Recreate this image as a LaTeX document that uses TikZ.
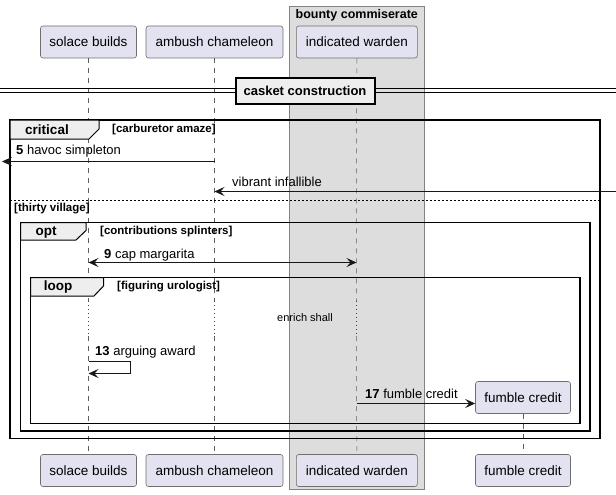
\documentclass[tikz,border=0pt]{standalone}
\usepackage{fontspec}
\setmainfont{Liberation Sans}
\usetikzlibrary{arrows.meta}
\definecolor{partfill}{RGB}{226,226,240}
\definecolor{partdraw}{RGB}{110,110,110}
\definecolor{boxfill}{RGB}{221,221,221}
\definecolor{boxdraw}{RGB}{130,130,130}
\definecolor{tabfill}{RGB}{238,238,238}
\definecolor{ink}{RGB}{24,24,24}
\definecolor{delaycol}{RGB}{176,0,80}
\tikzset{
  part/.style={draw=partdraw,fill=partfill,line width=0.6pt,rounded corners=2.5pt,
    minimum height=32pt,inner sep=0pt,font=\fontsize{13.5}{16}\selectfont},
  lifeline/.style={draw=ink!70,line width=0.5pt,dash pattern=on 5pt off 5pt},
  delayline/.style={draw=delaycol,line width=1pt,dash pattern=on 1.2pt off 2.8pt},
  msg/.style={draw=ink,line width=1pt,-{Stealth[length=10pt,width=9pt,inset=4pt]}},
  bimsg/.style={draw=ink,line width=1pt,{Stealth[length=10pt,width=9pt,inset=4pt]}-{Stealth[length=10pt,width=9pt,inset=4pt]}},
  msglabel/.style={anchor=base west,inner sep=0pt,font=\fontsize{13}{15}\selectfont},
  framebox/.style={draw=black,line width=1.6pt},
  tab/.style={draw=black,line width=1pt,fill=tabfill},
  tablabel/.style={inner sep=0pt,font=\bfseries\fontsize{13.5}{16}\selectfont},
  condlabel/.style={anchor=west,inner sep=0pt,font=\bfseries\fontsize{11.5}{14}\selectfont},
}
\begin{document}
\begin{tikzpicture}[x=1pt,y=-1pt]
\useasboundingbox (0,0) rectangle (616,495);
% group box
\node[draw=boxdraw,fill=boxfill,line width=0.8pt,minimum width=135pt,minimum height=483pt,inner sep=0pt] (grp) at (356.8,248) {};
\node[inner sep=0pt,font=\bfseries\fontsize{12.5}{14}\selectfont] (grpt) at (356.8,15) {bounty commiserate};
% top participants
\node[part,minimum width=96pt] (sb) at (88.5,42) {solace builds};
\node[part,minimum width=137pt] (ac) at (214.5,42) {ambush chameleon};
\node[part,minimum width=121pt] (iw) at (356.8,42) {indicated warden};
% bottom participants
\node[part,minimum width=96pt] (sbb) at (88.5,470.5) {solace builds};
\node[part,minimum width=137pt] (acb) at (214.5,470.5) {ambush chameleon};
\node[part,minimum width=121pt] (iwb) at (356.8,470.5) {indicated warden};
\node[part,minimum width=95pt] (fcb) at (523,470.5) {fumble credit};
\node[part,minimum width=95pt] (fc) at (523,397.5) {fumble credit};
% lifeline coordinates
\foreach \n/\x in {sb/88.5,ac/214.5,iw/356.5}{
  \coordinate (\n d1) at (\x,301);
  \coordinate (\n d2) at (\x,336);
}
\draw[lifeline] (sb.south) -- (sbd1);
\draw[lifeline] (ac.south) -- (acd1);
\draw[lifeline] (iw.south) -- (iwd1);
\draw[delayline] (sbd1) -- (sbd2);
\draw[delayline] (acd1) -- (acd2);
\draw[delayline] (iwd1) -- (iwd2);
\draw[lifeline] (sbd2) -- (sbb.north);
\draw[lifeline] (acd2) -- (acb.north);
\draw[lifeline] (iwd2) -- (iwb.north);
\draw[lifeline] (fc.south) -- (fcb.north);
% divider
\coordinate (dl1) at (0,89); \coordinate (dr1) at (616,89);
\coordinate (dl2) at (0,93); \coordinate (dr2) at (616,93);
\draw[line width=1pt] (dl1) -- (dr1);
\draw[line width=1pt] (dl2) -- (dr2);
\node[draw=black,fill=tabfill,line width=2pt,minimum width=139pt,minimum height=26pt,inner sep=0pt,
  font=\bfseries\fontsize{13}{15}\selectfont] (div) at (305,91) {casket construction};
% critical frame
\draw[framebox] (10,120) rectangle (600,438.5);
\draw[tab] (10,120) -- (99,120) -- (99,129) -- (89,139) -- (10,139) -- cycle;
\node[tablabel] (crit) at (47,130) {critical};
\node[condlabel] (critc) at (112,129.5) {[carburetor amaze]};
\draw[line width=0.8pt,dash pattern=on 2pt off 2pt] (10,200.5) -- (600,200.5);
\node[condlabel] (thirty) at (14,208.5) {[thirty village]};
% opt frame
\draw[framebox] (20.5,222.5) rectangle (590,431);
\draw[tab] (20.5,222.5) -- (86,222.5) -- (86,230.5) -- (76,240) -- (20.5,240) -- cycle;
\node[tablabel] (optl) at (46,232) {opt};
\node[condlabel] (optc) at (100,231.5) {[contributions splinters]};
% loop frame
\draw[framebox] (30.5,277.5) rectangle (580,423.5);
\draw[tab] (30.5,277.5) -- (103.5,277.5) -- (103.5,286) -- (94,296) -- (30.5,296) -- cycle;
\node[tablabel] (loopl) at (58,287) {loop};
\node[condlabel] (loopc) at (117,286.5) {[figuring urologist]};
% delay text
\node[inner sep=0pt,font=\fontsize{11}{13}\selectfont] (delay) at (305,318) {enrich shall};
% message 5
\coordinate (m5a) at (214.5,161.5); \coordinate (m5b) at (2,161.5);
\draw[msg] (m5a) -- (m5b);
\node[msglabel] (l5) at (16,154) {\textbf{5} havoc simpleton};
% vibrant
\coordinate (mva) at (616,191.5); \coordinate (mvb) at (214.5,191.5);
\draw[msg] (mva) -- (mvb);
\node[msglabel] (lv) at (232,186.5) {vibrant infallible};
% message 9
\coordinate (m9a) at (88.5,262.5); \coordinate (m9b) at (356.5,262.5);
\draw[bimsg] (m9a) -- (m9b);
\node[msglabel] (l9) at (104,258) {\textbf{9} cap margarita};
% message 13
\coordinate (m13a) at (88.5,361); \coordinate (m13b) at (88.5,373.5);
\draw[msg] (m13a) -- (130.5,361) -- (130.5,373.5) -- (m13b);
\node[msglabel] (l13) at (95,355.5) {\textbf{13} arguing award};
% message 17
\coordinate (m17a) at (356.5,403.5);
\draw[msg] (m17a) -- (fc.west |- m17a);
\node[msglabel] (l17) at (365,398) {\textbf{17} fumble credit};
\end{tikzpicture}
\end{document}
